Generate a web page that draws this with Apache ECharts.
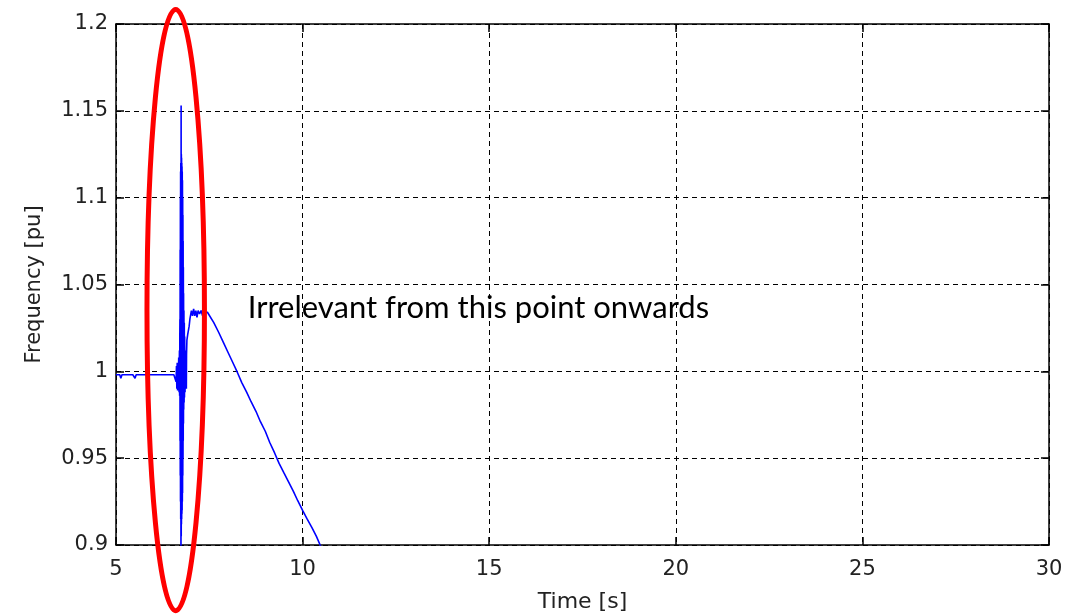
<!DOCTYPE html>
<html>
<head>
<meta charset="utf-8">
<script src="https://cdn.jsdelivr.net/npm/echarts@6/dist/echarts.min.js"></script>
<style>
html,body{margin:0;padding:0;background:#fff;}
#chart{width:1083px;height:614px;}
</style>
</head>
<body>
<div id="chart"></div>
<script>
// ---- data ----
const xTicks = [5, 10, 15, 20, 25, 30];
const yTicks = [0.9, 0.95, 1, 1.05, 1.1, 1.15, 1.2];
const timeS = [
  5.00, 5.10, 5.13, 5.16, 5.25, 5.35, 5.45, 5.51, 5.54, 5.65, 5.75, 5.85, 5.95, 6.05, 6.15, 6.25, 6.35, 6.45, 6.55,
  6.600, 6.610, 6.620, 6.630, 6.640, 6.650, 6.660, 6.670, 6.680, 6.690, 6.700, 6.705, 6.710,
  6.713, 6.716, 6.719, 6.722, 6.725, 6.728, 6.731, 6.734, 6.737, 6.741, 6.745, 6.748, 6.751, 6.754, 6.757, 6.760,
  6.763, 6.766, 6.769, 6.772, 6.775, 6.778, 6.781, 6.784, 6.787, 6.790, 6.793, 6.796, 6.799, 6.802, 6.805, 6.808,
  6.811, 6.815, 6.820, 6.825, 6.830, 6.835, 6.840, 6.850, 6.860, 6.870, 6.880, 6.885, 6.890,
  6.90, 6.92, 6.94, 6.96, 6.98, 7.00, 7.02, 7.05, 7.08, 7.11, 7.14, 7.17, 7.20,
  7.24, 7.28, 7.32, 7.36, 7.40, 7.45, 7.50, 7.62, 7.75, 7.88, 8.00, 8.12, 8.25, 8.37, 8.50, 8.62, 8.75, 8.87,
  9.00, 9.12, 9.25, 9.37, 9.50, 9.62, 9.75, 9.87, 10.00, 10.12, 10.25, 10.37, 10.47, 10.60
];
const freqPu = [
  0.998, 0.998, 0.996, 0.998, 0.998, 0.998, 0.998, 0.996, 0.998, 0.998, 0.998, 0.998, 0.998, 0.998, 0.998, 0.998, 0.998, 0.998, 0.998,
  0.998, 0.994, 1.003, 0.990, 1.005, 0.989, 1.004, 0.991, 1.008, 0.988, 1.012, 0.986, 1.020,
  1.030, 0.960, 1.070, 0.940, 1.100, 0.925, 1.115, 0.915, 1.120, 0.880, 1.153, 0.905, 1.125, 0.912, 1.123, 0.915,
  1.120, 0.918, 1.118, 0.920, 1.115, 0.925, 1.110, 0.930, 1.100, 0.940, 1.090, 0.950, 1.075, 0.960, 1.060, 0.970,
  1.045, 0.978, 1.035, 0.982, 1.028, 0.985, 1.020, 0.988, 1.012, 0.991, 1.006, 0.990, 1.010,
  1.018, 1.021, 1.020, 1.026, 1.030, 1.029, 1.035, 1.032, 1.036, 1.032, 1.035, 1.031, 1.035,
  1.033, 1.035, 1.032, 1.034, 1.033, 1.034, 1.034, 1.028, 1.0225, 1.0165, 1.011, 1.0055, 0.9995, 0.9935, 0.988, 0.9825, 0.977, 0.971,
  0.9655, 0.959, 0.953, 0.947, 0.9415, 0.9365, 0.931, 0.9255, 0.920, 0.915, 0.910, 0.905, 0.900, 0.894
];
// annotation (data units)
const noteText = 'Irrelevant from this point onwards';
const notePos = [8.53, 1.0365];
const ringCenter = [6.60, 1.0353];
const ringRadius = [0.77, 0.1731];

const seriesData = timeS.map((t, i) => [t, freqPu[i]]);

const chart = echarts.init(document.getElementById('chart'), null, {renderer: 'canvas'});
const tickFont = {fontFamily: 'DejaVu Sans', fontSize: 21, color: '#222'};
const axisLine = {show: true, lineStyle: {color: '#000', width: 1.5}};
const tick = {show: true, inside: true, length: 8, lineStyle: {color: '#000', width: 1.5}};
const grid = {show: true, lineStyle: {color: '#000', width: 1, type: [5, 4]}};

chart.setOption({
  animation: false,
  backgroundColor: '#fff',
  grid: {left: 116, right: 34, top: 24, bottom: 69, containLabel: false, outerBoundsMode: 'none'},
  xAxis: [
    {type: 'value', min: 5, max: 30, interval: 5, position: 'bottom',
     axisLine: axisLine, axisTick: tick, splitLine: grid,
     axisLabel: Object.assign({margin: 14}, tickFont),
     name: 'Time [s]', nameLocation: 'middle', nameGap: 46,
     nameTextStyle: Object.assign({}, tickFont, {fontSize: 22})},
    {type: 'value', min: 5, max: 30, interval: 5, position: 'top',
     axisLine: axisLine, axisTick: tick, splitLine: {show: false}, axisLabel: {show: false}}
  ],
  yAxis: [
    {type: 'value', min: 0.9, max: 1.2, interval: 0.05, position: 'left',
     axisLine: axisLine, axisTick: tick, splitLine: grid,
     axisLabel: Object.assign({margin: 8, formatter: v => String(+v.toFixed(2))}, tickFont),
     name: 'Frequency [pu]', nameLocation: 'middle', nameGap: 71,
     nameTextStyle: tickFont},
    {type: 'value', min: 0.9, max: 1.2, interval: 0.05, position: 'right',
     axisLine: axisLine, axisTick: tick, splitLine: {show: false}, axisLabel: {show: false}}
  ],
  series: [{
    type: 'line', data: seriesData, showSymbol: false, clip: true,
    lineStyle: {color: '#0000ff', width: 1.6}
  }]
});

const c = chart.convertToPixel({xAxisIndex: 0, yAxisIndex: 0}, ringCenter);
const e = chart.convertToPixel({xAxisIndex: 0, yAxisIndex: 0}, [ringCenter[0] + ringRadius[0], ringCenter[1] - ringRadius[1]]);
const tp = chart.convertToPixel({xAxisIndex: 0, yAxisIndex: 0}, notePos);
chart.setOption({
  graphic: [
    {type: 'text', x: tp[0], y: tp[1], z: 100,
     style: {text: noteText, fontFamily: 'Lato', fontSize: 31, fill: '#000', align: 'left', verticalAlign: 'middle'}},
    {type: 'ellipse', z: 101,
     shape: {cx: c[0], cy: c[1], rx: e[0] - c[0], ry: e[1] - c[1]},
     style: {fill: 'none', stroke: '#ff0000', lineWidth: 5}}
  ]
});
</script>
</body>
</html>
